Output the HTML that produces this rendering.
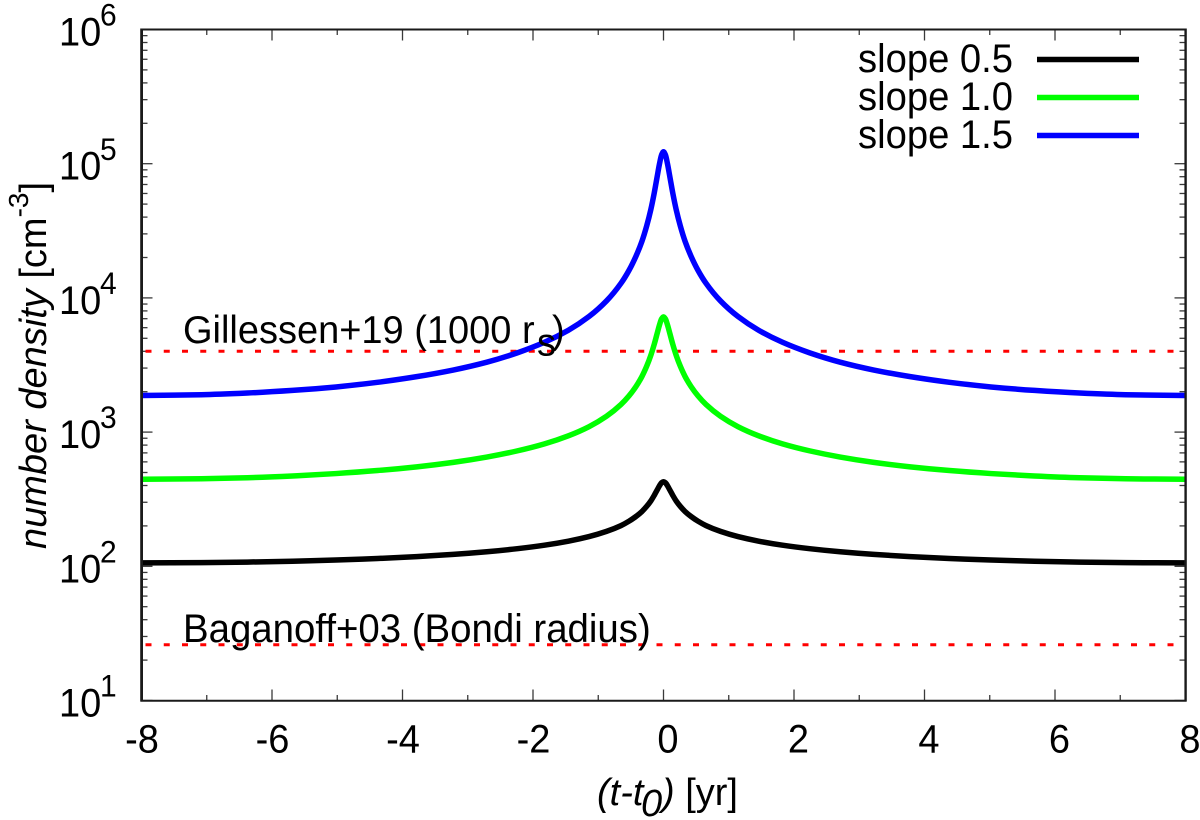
<!DOCTYPE html>
<html lang="en">
<head>
<meta charset="utf-8">
<title>Number density vs time</title>
<style>
html,body{margin:0;padding:0;background:#fff;}
svg{display:block;}
text{font-family:"Liberation Sans",sans-serif;fill:#000;font-size:38px;}
</style>
</head>
<body>
<svg id="chart" xmlns="http://www.w3.org/2000/svg" width="1200" height="820" viewBox="0 0 1200 820">
  <rect x="0" y="0" width="1200" height="820" fill="#fff"/>
  <g id="ticks"></g>
  <g id="refs"></g>
  <g id="curves"></g>
  <g stroke="#1a1a1a">
    <line x1="141.6" y1="28.5" x2="141.6" y2="701.5" stroke-width="2.8"/>
    <line x1="1185.6" y1="28.5" x2="1185.6" y2="701.5" stroke-width="2.4"/>
    <line x1="140.5" y1="29.5" x2="1186.5" y2="29.5" stroke-width="2"/>
    <line x1="140.5" y1="700.7" x2="1186.5" y2="700.7" stroke-width="2"/>
  </g>
  <g id="tick-labels"></g>
  <text transform="translate(183,343) scale(1,1.03)" x="0" y="0">Gillessen+19 (1000 r<tspan x="354" y="12">s</tspan><tspan x="369" y="0">)</tspan></text>
  <text transform="translate(183,642) scale(1,1.03)" x="0" y="0" style="font-size:38.4px">Baganoff+03 (Bondi radius)</text>
  <text x="597" y="805"><tspan font-style="italic">(t-t</tspan><tspan font-style="italic" x="641" y="816">0</tspan><tspan font-style="italic" x="662" y="805">)</tspan> [yr]</text>
  <text transform="translate(46,549) rotate(-90)"><tspan font-style="italic">number density</tspan> [cm<tspan font-size="28" dy="-18">-3</tspan><tspan dy="18">]</tspan></text>
  <g id="legend"></g>
</svg>
<script>
// Chart data
const times = [-8,-7.083,-6.376,-5.686,-5.019,-4.383,-3.782,-3.223,-2.708,-2.241,-1.824,-1.458,-1.141,-0.874,-0.652,-0.529,-0.423,-0.332,-0.257,-0.194,-0.142,-0.099,-0.062,-0.03,0,0.03,0.062,0.099,0.142,0.194,0.257,0.332,0.423,0.529,0.652,0.874,1.141,1.458,1.824,2.241,2.708,3.223,3.782,4.383,5.019,5.686,6.376,7.083,8];
const slope05 = [106,106.5,107.5,109.1,111.3,114.3,118,122.6,128.3,135.3,143.6,153.9,166.5,182,201,216.8,235,255.7,280,307,338,369,398,419,427,419,398,369,338,307,280,255.7,235,216.8,201,182,166.5,153.9,143.6,135.3,128.3,122.6,118,114.3,111.3,109.1,107.5,106.5,106];
const slope10 = [445,449,457,471,491,517,551,595,652,724.5,817,938.5,1098,1312,1605,1861,2183,2589,3102,3738,4512,5393,6275,6964,7227,6964,6275,5393,4512,3738,3102,2589,2183,1861,1605,1312,1098,938.5,817,724.5,652,595,551,517,491,471,457,449,445];
const slope15 = [1875,1900,1955,2044,2170,2349,2590,2902,3320,3895,4670,5740,7270,9490,12840,16040,20400,26300,34500,45600,60500,79100,99300,116100,122700,116100,99300,79100,60500,45600,34500,26300,20400,16040,12840,9490,7270,5740,4670,3895,3320,2902,2590,2349,2170,2044,1955,1900,1875];
const seriesNames = ["slope 0.5","slope 1.0","slope 1.5"];
const seriesColors = ["#000000","#00ff00","#0000ff"];
const refValues = [4000,26];
const xTickValues = [-8,-6,-4,-2,0,2,4,6,8];
const xMinorValues = [-7,-5,-3,-1,1,3,5,7];
const yDecades = [1,2,3,4,5,6];
const yMinorFactors = [2,3,4,5,6,7,8,9];

// Axis functions
const NS = "http://www.w3.org/2000/svg";
const LEFT = 141.5, RIGHT = 1185.5, TOP = 29.5, BOTTOM = 700.5;
function sx(t){ return LEFT + (t + 8) / 16 * (RIGHT - LEFT); }
function sy(v){ return BOTTOM - (Math.log10(v) - 1) / 5 * (BOTTOM - TOP); }
function line(parent, x1, y1, x2, y2, color, width){
  const el = document.createElementNS(NS, "line");
  el.setAttribute("x1", x1);
  el.setAttribute("y1", y1);
  el.setAttribute("x2", x2);
  el.setAttribute("y2", y2);
  el.setAttribute("stroke", color);
  el.setAttribute("stroke-width", width);
  parent.appendChild(el);
  return el;
}
// Smooth monotone cubic path through the data points
function smoothPath(xs, ys){
  const n = xs.length;
  const d = [], m = [];
  for (let i = 0; i < n - 1; i++) { d.push((ys[i + 1] - ys[i]) / (xs[i + 1] - xs[i])); }
  m.push(d[0]);
  for (let i = 1; i < n - 1; i++) {
    if (d[i - 1] * d[i] <= 0) { m.push(0); continue; }
    const h0 = xs[i] - xs[i - 1], h1 = xs[i + 1] - xs[i];
    const w0 = 2 * h1 + h0, w1 = h1 + 2 * h0;
    m.push((w0 + w1) / (w0 / d[i - 1] + w1 / d[i]));
  }
  m.push(d[n - 2]);
  let path = "M" + xs[0].toFixed(2) + " " + ys[0].toFixed(2);
  for (let i = 0; i < n - 1; i++) {
    const h = (xs[i + 1] - xs[i]) / 3;
    path += "C" + (xs[i] + h).toFixed(2) + " " + (ys[i] + m[i] * h).toFixed(2) + " " +
      (xs[i + 1] - h).toFixed(2) + " " + (ys[i + 1] - m[i + 1] * h).toFixed(2) + " " +
      xs[i + 1].toFixed(2) + " " + ys[i + 1].toFixed(2);
  }
  return path;
}

// Ticks
const tickGroup = document.getElementById("ticks");
const labelGroup = document.getElementById("tick-labels");
const TICK_COLOR = "#3a3a3a";
xTickValues.forEach(function(t){
  const a = line(tickGroup, sx(t), BOTTOM, sx(t), BOTTOM - 11, TICK_COLOR, 1.3);
  
  
  const b = line(tickGroup, sx(t), TOP, sx(t), TOP + 11, TICK_COLOR, 1.3);
  
  
  const lab = document.createElementNS(NS, "text");
  
  
  lab.setAttribute("transform", "translate(" + (sx(t) + (t < 0 ? 0.5 : 4.5)) + ",752.5) scale(1,1.04)");
  lab.setAttribute("text-anchor", "middle");
  lab.textContent = String(t);
  labelGroup.appendChild(lab);
});
xMinorValues.forEach(function(t){
  const a = line(tickGroup, sx(t), BOTTOM, sx(t), BOTTOM - 5.5, TICK_COLOR, 1.3);
  
  
  const b = line(tickGroup, sx(t), TOP, sx(t), TOP + 5.5, TICK_COLOR, 1.3);
  
  
});
yDecades.forEach(function(d){
  const v = Math.pow(10, d);
  const y = sy(v);
  const a = line(tickGroup, LEFT, y, LEFT + 11, y, TICK_COLOR, 1.3);
  
  
  const b = line(tickGroup, RIGHT, y, RIGHT - 11, y, TICK_COLOR, 1.3);
  
  
  const lab = document.createElementNS(NS, "text");
  
  
  lab.setAttribute("transform", "translate(59," + (y + 16) + ") scale(1,1.05)");
  const base = document.createElementNS(NS, "tspan");
  base.textContent = "10";
  lab.appendChild(base);
  const sup = document.createElementNS(NS, "tspan");
  sup.setAttribute("x", 41);
  sup.setAttribute("y", -19);
  sup.setAttribute("font-size", "30");
  sup.textContent = String(d);
  lab.appendChild(sup);
  labelGroup.appendChild(lab);
  if (d < 6) {
    yMinorFactors.forEach(function(f){
      const my = sy(f * v);
      const c = line(tickGroup, LEFT, my, LEFT + 6, my, TICK_COLOR, 1.3);
      
      
      const e = line(tickGroup, RIGHT, my, RIGHT - 6, my, TICK_COLOR, 1.3);
      
      
    });
  }
});

// Reference lines
const refGroup = document.getElementById("refs");
refValues.forEach(function(v){
  const r = line(refGroup, LEFT, sy(v), RIGHT, sy(v), "#ff0000", 3);
  
  
  r.setAttribute("stroke-dasharray", "6 12.25");
  r.setAttribute("stroke-dashoffset", "-4");
});

// Curves
const curveGroup = document.getElementById("curves");
[slope05, slope10, slope15].forEach(function(vals, i){
  const p = document.createElementNS(NS, "path");
  
  
  p.setAttribute("d", smoothPath(times.map(sx), vals.map(sy)));
  p.setAttribute("fill", "none");
  p.setAttribute("stroke", seriesColors[i]);
  p.setAttribute("stroke-width", "5.5");
  p.setAttribute("stroke-linejoin", "round");
  curveGroup.appendChild(p);
});

// Legend
const legendGroup = document.getElementById("legend");
const legendBaselines = [72, 110, 148];
seriesNames.forEach(function(name, i){
  const t = document.createElementNS(NS, "text");
  
  
  t.setAttribute("transform", "translate(858," + legendBaselines[i] + ") scale(1,1.04)");
  t.style.fontSize = "38.2px";
  t.textContent = name;
  legendGroup.appendChild(t);
  const s = line(legendGroup, 1037, legendBaselines[i] - 12.5, 1139, legendBaselines[i] - 12.5, seriesColors[i], 5.5);
  
  
});
</script>
</body>
</html>
